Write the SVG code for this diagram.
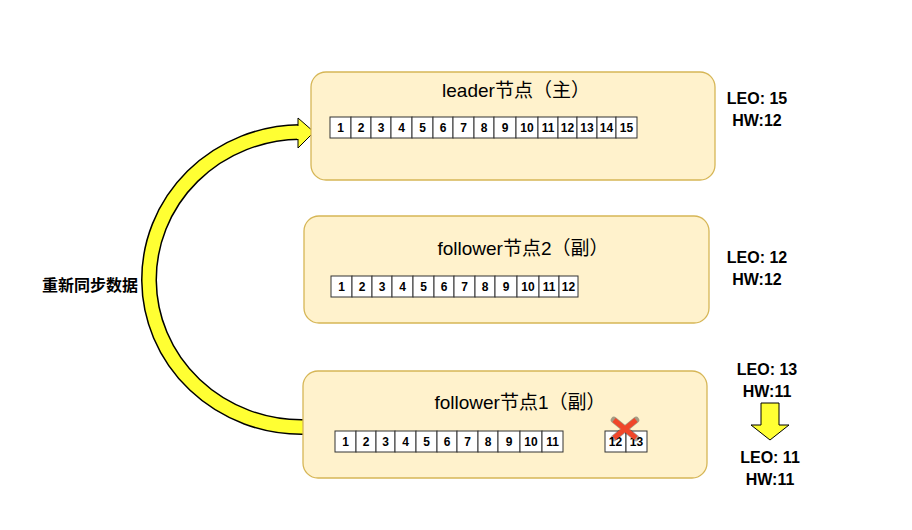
<svg xmlns="http://www.w3.org/2000/svg" width="912" height="530" viewBox="0 0 912 530">
<style>
.node{fill:#fff2cc;stroke:#d6b656;stroke-width:1.3}
.cell{fill:#fff;stroke:#333;stroke-width:1}
.ct{font-family:"Liberation Sans",Arial,sans-serif;font-size:12px;font-weight:bold;text-anchor:middle;fill:#000}
.title{font-family:"Liberation Sans","Noto Sans CJK SC",sans-serif;font-size:19px;text-anchor:middle;fill:#000}
.lab{font-family:"Liberation Sans","Noto Sans CJK SC",sans-serif;font-size:16px;font-weight:bold;text-anchor:middle;fill:#000}
</style>
<rect width="912" height="530" fill="#fff"/>
<g id="connectors">
<path d="M303,427 A152,147 0 0 1 300,132" fill="none" stroke="#000" stroke-width="16"/>
<path d="M303,427 A152,147 0 0 1 300,132" fill="none" stroke="#ffff33" stroke-width="13"/>
<polygon points="298,118 314,132 298,148" fill="#ffff33" stroke="#000" stroke-width="1"/>
<rect x="297" y="126" width="4" height="13" fill="#ffff33"/>
<polygon points="761,403 779,403 779,425 789,425 770,440 751,425 761,425" fill="#ffff33" stroke="#000" stroke-width="1"/>
<polygon points="626,272 633,275 626,278 628,275" fill="#000"/>
</g>
<text class="lab" x="90" y="291">重新同步数据</text>
<g id="leader">
<rect class="node" x="311" y="72" width="404" height="108" rx="15"/>
<text class="title" x="516" y="97">leader节点（主）</text>
<g id="lcells"></g>
</g>
<g id="follower2">
<rect class="node" x="304" y="216" width="405" height="107" rx="15"/>
<text class="title" x="523" y="255">follower节点2（副）</text>
</g>
<g id="follower1">
<rect class="node" x="303" y="371" width="404" height="107" rx="15"/>
<text class="title" x="520" y="409">follower节点1（副）</text>
</g>
<g id="cells">
<g transform="translate(330,117)">
<rect class="cell" x="0" y="0" width="21" height="21"/><text class="ct" x="10.5" y="15">1</text>
<rect class="cell" x="21" y="0" width="20" height="21"/><text class="ct" x="31" y="15">2</text>
<rect class="cell" x="41" y="0" width="20" height="21"/><text class="ct" x="51" y="15">3</text>
<rect class="cell" x="61" y="0" width="21" height="21"/><text class="ct" x="71.5" y="15">4</text>
<rect class="cell" x="82" y="0" width="21" height="21"/><text class="ct" x="92.5" y="15">5</text>
<rect class="cell" x="103" y="0" width="20" height="21"/><text class="ct" x="113" y="15">6</text>
<rect class="cell" x="123" y="0" width="21" height="21"/><text class="ct" x="133.5" y="15">7</text>
<rect class="cell" x="144" y="0" width="20" height="21"/><text class="ct" x="154" y="15">8</text>
<rect class="cell" x="164" y="0" width="22" height="21"/><text class="ct" x="175" y="15">9</text>
<rect class="cell" x="186" y="0" width="22" height="21"/><text class="ct" x="197" y="15">10</text>
<rect class="cell" x="208" y="0" width="20" height="21"/><text class="ct" x="218" y="15">11</text>
<rect class="cell" x="228" y="0" width="19" height="21"/><text class="ct" x="237.5" y="15">12</text>
<rect class="cell" x="247" y="0" width="20" height="21"/><text class="ct" x="257" y="15">13</text>
<rect class="cell" x="267" y="0" width="19" height="21"/><text class="ct" x="276.5" y="15">14</text>
<rect class="cell" x="286" y="0" width="21" height="21"/><text class="ct" x="296.5" y="15">15</text>
</g>
<g transform="translate(331,276)">
<rect class="cell" x="0" y="0" width="21" height="21"/><text class="ct" x="10.5" y="15">1</text>
<rect class="cell" x="21" y="0" width="20" height="21"/><text class="ct" x="31" y="15">2</text>
<rect class="cell" x="41" y="0" width="20" height="21"/><text class="ct" x="51" y="15">3</text>
<rect class="cell" x="61" y="0" width="21" height="21"/><text class="ct" x="71.5" y="15">4</text>
<rect class="cell" x="82" y="0" width="21" height="21"/><text class="ct" x="92.5" y="15">5</text>
<rect class="cell" x="103" y="0" width="20" height="21"/><text class="ct" x="113" y="15">6</text>
<rect class="cell" x="123" y="0" width="21" height="21"/><text class="ct" x="133.5" y="15">7</text>
<rect class="cell" x="144" y="0" width="20" height="21"/><text class="ct" x="154" y="15">8</text>
<rect class="cell" x="164" y="0" width="22" height="21"/><text class="ct" x="175" y="15">9</text>
<rect class="cell" x="186" y="0" width="22" height="21"/><text class="ct" x="197" y="15">10</text>
<rect class="cell" x="208" y="0" width="20" height="21"/><text class="ct" x="218" y="15">11</text>
<rect class="cell" x="228" y="0" width="19" height="21"/><text class="ct" x="237.5" y="15">12</text>
</g>
<g transform="translate(335,431)">
<rect class="cell" x="0" y="0" width="21" height="21"/><text class="ct" x="10.5" y="15">1</text>
<rect class="cell" x="21" y="0" width="20" height="21"/><text class="ct" x="31" y="15">2</text>
<rect class="cell" x="41" y="0" width="19" height="21"/><text class="ct" x="50.5" y="15">3</text>
<rect class="cell" x="60" y="0" width="21" height="21"/><text class="ct" x="70.5" y="15">4</text>
<rect class="cell" x="81" y="0" width="21" height="21"/><text class="ct" x="91.5" y="15">5</text>
<rect class="cell" x="102" y="0" width="20" height="21"/><text class="ct" x="112" y="15">6</text>
<rect class="cell" x="122" y="0" width="21" height="21"/><text class="ct" x="132.5" y="15">7</text>
<rect class="cell" x="143" y="0" width="20" height="21"/><text class="ct" x="153" y="15">8</text>
<rect class="cell" x="163" y="0" width="22" height="21"/><text class="ct" x="174" y="15">9</text>
<rect class="cell" x="185" y="0" width="22" height="21"/><text class="ct" x="196" y="15">10</text>
<rect class="cell" x="207" y="0" width="21" height="21"/><text class="ct" x="217.5" y="15">11</text>
</g>
<g transform="translate(605,431)">
<rect class="cell" x="0" y="0" width="21" height="21"/><text class="ct" x="10.5" y="15">12</text>
<rect class="cell" x="21" y="0" width="21" height="21"/><text class="ct" x="31.5" y="15">13</text>
</g>
<path d="M614,420 L636,438 M636,420 L614,438" stroke="#000" stroke-width="6.5" stroke-linecap="round" opacity="0.35"/>
<path d="M614,420 L636,438 M636,420 L614,438" stroke="#f0462a" stroke-width="5"/>
</g>
<g id="labels">
<text class="lab" x="757" y="104">LEO: 15</text>
<text class="lab" x="757" y="126">HW:12</text>
<text class="lab" x="757" y="263">LEO: 12</text>
<text class="lab" x="757" y="285">HW:12</text>
<text class="lab" x="767" y="375">LEO: 13</text>
<text class="lab" x="767" y="397">HW:11</text>
<text class="lab" x="770" y="463">LEO: 11</text>
<text class="lab" x="770" y="485">HW:11</text>
</g>
</svg>
